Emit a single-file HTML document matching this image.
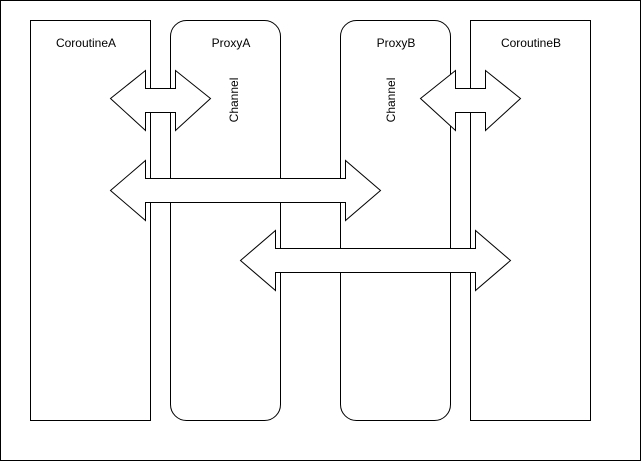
<!DOCTYPE html>
<html><head><style>body{margin:0;background:#fff}</style></head><body>
<svg width="641" height="461" viewBox="0 0 641 461" xmlns="http://www.w3.org/2000/svg" font-family="Liberation Sans, sans-serif" font-size="12">
<rect x="0.5" y="0.5" width="640" height="460" fill="#fff" stroke="#000"/>
<g fill="#fff" stroke="#000">
<rect x="30.5" y="20.5" width="120" height="400"/>
<rect x="170.5" y="20.5" width="110" height="400" rx="16"/>
<rect x="340.5" y="20.5" width="110" height="400" rx="16"/>
<rect x="470.5" y="20.5" width="120" height="400"/>
<path d="M110.5 98.5 L145.5 70.5 L145.5 88.5 L175.5 88.5 L175.5 70.5 L210.5 98.5 L175.5 130.5 L175.5 112.5 L145.5 112.5 L145.5 130.5 Z"/>
<path d="M420.5 98.5 L455.5 70.5 L455.5 88.5 L485.5 88.5 L485.5 70.5 L520.5 98.5 L485.5 130.5 L485.5 112.5 L455.5 112.5 L455.5 130.5 Z"/>
<path d="M110.5 190.5 L145.5 160.5 L145.5 178.5 L345.5 178.5 L345.5 160.5 L380.5 190.5 L345.5 220.5 L345.5 202.5 L145.5 202.5 L145.5 220.5 Z"/>
<path d="M240.5 260.5 L275.5 230.5 L275.5 248.5 L475.5 248.5 L475.5 230.5 L510.5 260.5 L475.5 290.5 L475.5 272.5 L275.5 272.5 L275.5 290.5 Z"/>
</g>
<g fill="#000" text-anchor="middle">
<text x="86" y="47">CoroutineA</text>
<text x="231" y="47">ProxyA</text>
<text x="396" y="47">ProxyB</text>
<text x="531" y="47">CoroutineB</text>
<text transform="translate(238,100) rotate(-90)">Channel</text>
<text transform="translate(395,100) rotate(-90)">Channel</text>
</g>
</svg>
</body></html>
